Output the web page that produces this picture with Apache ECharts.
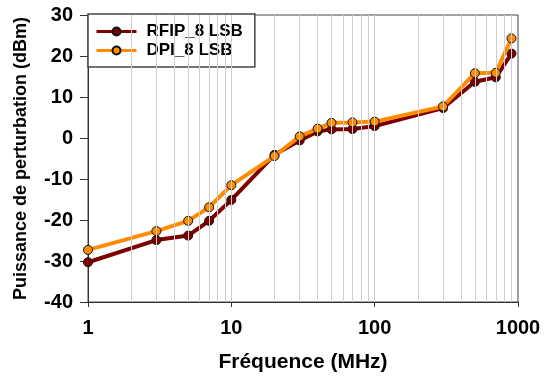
<!DOCTYPE html>
<html>
<head>
<meta charset="utf-8">
<script src="https://cdn.jsdelivr.net/npm/echarts@6/dist/echarts.min.js"></script>
<style>html,body{margin:0;padding:0;background:#fff}#c{width:544px;height:378px}</style>
</head>
<body>
<div id="c"></div>
<script>
var freqs = [1, 3, 5, 7, 10, 20, 30, 40, 50, 70, 100, 300, 500, 700, 900];
var rfip = [-30.3, -24.9, -23.8, -20.2, -15.1, -4.1, -0.6, 1.6, 2.1, 2.2, 2.9, 7.3, 13.7, 14.8, 20.6];
var dpi = [-27.3, -22.7, -20.2, -16.9, -11.5, -4.4, 0.4, 2.3, 3.7, 3.8, 4.0, 7.7, 15.8, 15.9, 24.3];
var gridValues = [2,3,4,5,6,7,8,9,10,20,30,40,50,60,70,80,90,100,200,300,400,500,600,700,800,900];
var seriesNames = ['RFIP_8 LSB', 'DPI_8 LSB'];
var yTicks = [-40, -30, -20, -10, 0, 10, 20, 30];

function pairs(xs, ys) { return xs.map(function (x, i) { return [x, ys[i]]; }); }

var font = 'Liberation Sans, Arial, Helvetica, sans-serif';
var chart = echarts.init(document.getElementById('c'), null, {renderer: 'canvas'});
chart.setOption({
  animation: false,
  grid: {left: 88, right: 26, top: 15, bottom: 76, show: true, borderColor: '#444', borderWidth: 1, backgroundColor: 'transparent'},
  legend: {
    data: seriesNames,
    orient: 'vertical', left: 88, top: 14,
    backgroundColor: '#fff', borderColor: '#444', borderWidth: 1.5,
    padding: [9, 12, 8, 7], itemGap: 2, itemWidth: 40, itemHeight: 10,
    lineStyle: {width: 3},
    textStyle: {fontFamily: font, fontWeight: 'bold', fontSize: 17, lineHeight: 17, color: '#000', padding: [0, 0, 0, 5]}
  },
  xAxis: {
    type: 'log', logBase: 10, min: 1, max: 1000,
    name: 'Fréquence (MHz)', nameLocation: 'middle', nameGap: 50,
    nameTextStyle: {fontFamily: font, fontWeight: 'bold', fontSize: 21, color: '#000'},
    axisLine: {show: true, onZero: false, lineStyle: {color: '#333', width: 1}},
    axisTick: {show: true, inside: false, length: 5, lineStyle: {color: '#333'}},
    axisLabel: {fontFamily: font, fontWeight: 'bold', fontSize: 20, color: '#000', margin: 16,
      formatter: function (v) { return String(v); }},
    splitLine: {show: false}, minorTick: {show: false}, minorSplitLine: {show: false}
  },
  yAxis: {
    type: 'value', min: -40, max: 30, interval: 10,
    name: 'Puissance de perturbation (dBm)', nameLocation: 'middle', nameGap: 58,
    nameTextStyle: {fontFamily: font, fontWeight: 'bold', fontSize: 18, color: '#000'},
    axisLine: {show: true, onZero: false, lineStyle: {color: '#333', width: 1}},
    axisTick: {show: true, inside: false, length: 8, lineStyle: {color: '#333'}},
    axisLabel: {fontFamily: font, fontWeight: 'bold', fontSize: 20, color: '#000', margin: 15},
    splitLine: {show: false}
  },
  series: [
    {
      name: 'grid', type: 'line', data: [], z: 1, silent: true,
      markLine: {
        silent: true, symbol: 'none', animation: false,
        label: {show: false},
        lineStyle: {color: '#cfcfcf', width: 1, type: 'solid'},
        emphasis: {disabled: true},
        data: gridValues.map(function (v) { return {xAxis: v}; })
      }
    },
    {
      name: seriesNames[0], type: 'line', data: pairs(freqs, rfip), z: 3,
      symbol: 'circle', symbolSize: 9,
      lineStyle: {color: '#7d0000', width: 4},
      itemStyle: {color: '#7d0000', borderColor: '#111', borderWidth: 1}
    },
    {
      name: seriesNames[1], type: 'line', data: pairs(freqs, dpi), z: 4,
      symbol: 'circle', symbolSize: 9,
      lineStyle: {color: '#ff8c00', width: 4},
      itemStyle: {color: '#ff8c00', borderColor: '#111', borderWidth: 1}
    }
  ]
});
</script>
</body>
</html>
